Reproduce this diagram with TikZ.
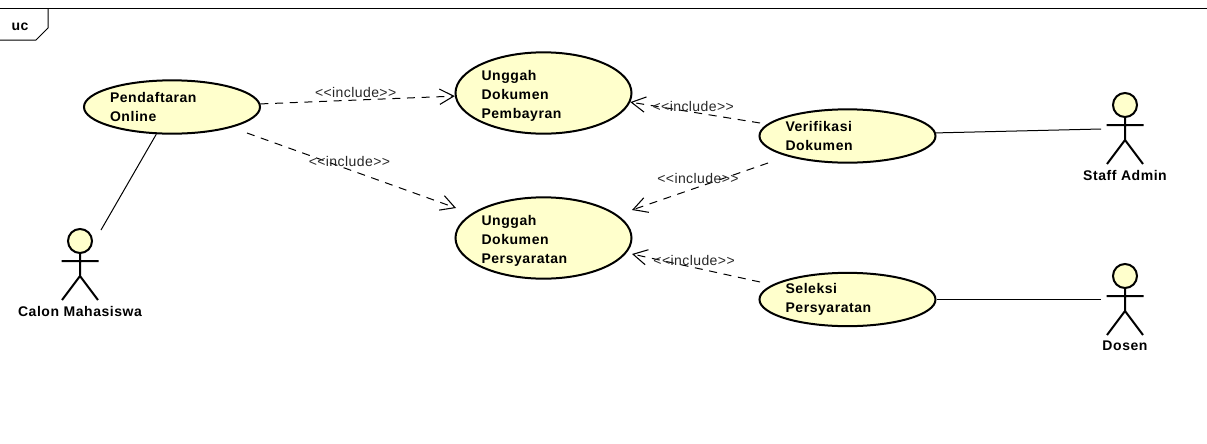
\documentclass[tikz,border=0pt]{standalone}
\usepackage{fontspec}
\usepackage{tikz}
\usetikzlibrary{arrows.meta,shapes.geometric}
\newfontfamily\ucbold[LetterSpace=4]{Liberation Sans Bold}
\newfontfamily\ucthin[LetterSpace=3]{Liberation Sans}
\definecolor{ucfill}{HTML}{FFFFCC}

\begin{document}
\begin{tikzpicture}[
  x=0.75pt,y=-0.75pt,
  usecase/.style={ellipse,draw=black,fill=ucfill,line width=1.5pt,minimum width=132pt,
                  text width=93pt,align=left,inner sep=0pt,font=\ucbold\fontsize{10.5}{14.25}\selectfont},
  bigcase/.style={usecase,minimum height=61pt,execute at begin node={\rule{0pt}{11.5pt}}},
  smallcase/.style={usecase,minimum height=40pt},
  actorlbl/.style={font=\ucbold\fontsize{10.5}{13}\selectfont,inner sep=0pt},
  incl/.style={font=\ucthin\fontsize{10.5}{13}\selectfont,text=black!85,inner sep=0pt},
  dep/.style={-{Straight Barb[length=10.5pt,width=11.5pt,line width=.8pt]},draw=black,line width=0.75pt,
              dash pattern=on 6pt off 5pt},
  assoc/.style={draw=black,line width=0.75pt},
  actor/.pic={
    \draw[line width=1.5pt,fill=ucfill] (0,0) circle (12);
    \draw[line width=1.5pt] (0,12) -- (0,35) (-18.5,20) -- (18.5,20) (-18,59) -- (0,35) -- (18,59);
    \node[actorlbl] (lbl) at (0,70) {#1};
  }
]
\useasboundingbox (0,0) rectangle (1207,443);

% frame
\draw[assoc] (0,8) -- (1207,8);
\draw[assoc] (48,8) -- (48,28) -- (36,40) -- (0,40);
\node[actorlbl] (uc) at (20,26.5) {uc};

\node[smallcase] (daftar) at (172,107) {Pendaftaran\\Online};
\node[bigcase] (bayar) at (543.5,93) {Unggah\\Dokumen\\Pembayran};
\node[bigcase] (syarat) at (543.5,238) {Unggah\\Dokumen\\Persyaratan};
\node[smallcase] (verif) at (847.5,136) {Verifikasi\\Dokumen};
\node[smallcase] (seleksi) at (847.5,299.5) {Seleksi\\Persyaratan};

\pic (calon) at (80,241) {actor={Calon Mahasiswa}};
\pic (staff) at (1125,105) {actor={Staff Admin}};
\pic (dosen) at (1125,276) {actor={Dosen}};

\coordinate (calonEnd) at (101,230);
\coordinate (staffEnd) at (1101,129);
\coordinate (dosenEnd) at (1101,299.5);

\draw[dep] (daftar.2.6) -- node[incl,pos=.49,yshift=5.6pt] (i1) {<<include>>} (bayar.182);
\draw[dep] ([shift={(75,26)}]daftar.center) -- node[incl,pos=.49,yshift=6pt] (i2) {<<include>>} ([shift={(-87.5,-30)}]syarat.center);
\draw[dep] ([shift={(-87.5,-13)}]verif.center) -- node[incl,pos=.515,yshift=4.5pt] (i3) {<<include>>} (bayar.-6.4);
\draw[dep] ([shift={(-79.5,27)}]verif.center) -- node[incl,pos=.515,yshift=6.7pt] (i4) {<<include>>} ([shift={(88.5,-28)}]syarat.center);
\draw[dep] ([shift={(-87.5,-17.5)}]seleksi.center) -- node[incl,pos=.515,yshift=5pt] (i5) {<<include>>} ([shift={(88.5,16)}]syarat.center);

\draw[assoc] (daftar.240.6) -- (calonEnd);
\draw[assoc] (verif.2) -- (staffEnd);
\draw[assoc] (seleksi.east) -- (dosenEnd);
\end{tikzpicture}
\end{document}
